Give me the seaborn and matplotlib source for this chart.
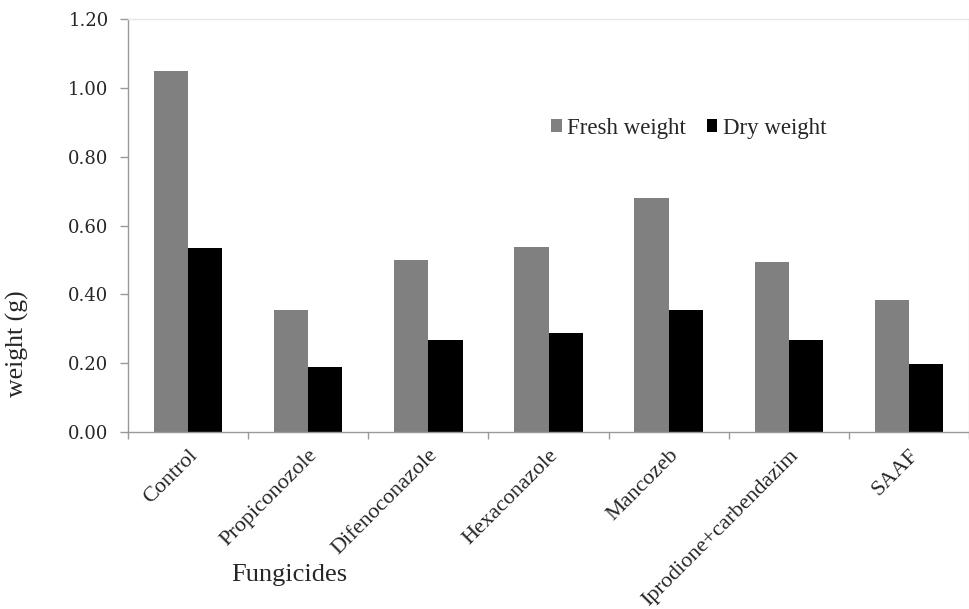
import matplotlib
matplotlib.use("Agg")
import matplotlib.pyplot as plt
import seaborn as sns
import pandas as pd
import numpy as np
from matplotlib.ticker import FixedLocator

categories = ["Control", "Propiconozole", "Difenoconazole", "Hexaconazole",
              "Mancozeb", "Iprodione+carbendazim", "SAAF"]
fresh_weight = [1.05, 0.355, 0.50, 0.537, 0.681, 0.494, 0.384]
dry_weight = [0.535, 0.19, 0.267, 0.289, 0.355, 0.267, 0.198]
series_names = ["Fresh weight", "Dry weight"]
y_ticks = [0.0, 0.2, 0.4, 0.6, 0.8, 1.0, 1.2]

df = pd.DataFrame({
    "Fungicide": categories * 2,
    "weight": fresh_weight + dry_weight,
    "Series": [series_names[0]] * len(categories) + [series_names[1]] * len(categories),
})

sns.set_theme(style="white")
plt.rcParams["font.family"] = ["Liberation Serif", "DejaVu Serif"]

fig = plt.figure(figsize=(9.7, 6.09), dpi=100)
ax = fig.add_axes([0.132, 0.2906, 0.867, 0.6782])

sns.barplot(data=df, x="Fungicide", y="weight", hue="Series",
            palette=["#808080", "#000000"], width=0.57, gap=0,
            edgecolor="none", linewidth=0, ax=ax, legend=True)

ax.set_ylim(0, 1.2)
ax.set_xlim(-0.5, len(categories) - 0.5)
ax.set_yticks(y_ticks, labels=[f"{v:.2f}" for v in y_ticks],
              fontfamily="DejaVu Serif", fontsize=13)
ax.tick_params(axis="y", direction="out", length=6, width=1,
               color="#999999", left=True, pad=8)
ax.tick_params(axis="x", which="major", length=0, labelsize=16, pad=10)
ax.xaxis.set_minor_locator(FixedLocator(np.arange(-0.5, len(categories), 1.0)))
ax.tick_params(axis="x", which="minor", direction="out", length=5, width=1,
               color="#999999", bottom=True)
for lab in ax.get_xticklabels():
    lab.set_rotation(45)
    lab.set_ha("right")
    lab.set_rotation_mode("anchor")

for side in ["left", "bottom"]:
    ax.spines[side].set_color("#999999")
    ax.spines[side].set_linewidth(1)
for side in ["top", "right"]:
    ax.spines[side].set_color("#e6e6e6")
    ax.spines[side].set_linewidth(1)

ax.set_xlabel("")
ax.set_ylabel("weight (g)", fontsize=18.5, va="center")
ax.yaxis.set_label_coords(-0.131, 0.215)
fig.text(0.298, 0.056, "Fungicides", fontsize=19, ha="center", va="center")

handles, labels = ax.get_legend_handles_labels()
ax.legend(handles, labels, ncol=2, frameon=False, fontsize=16.5,
          loc="center", bbox_to_anchor=(0.667, 0.736),
          handlelength=0.45, handleheight=0.45, handletextpad=0.25,
          columnspacing=0.9)

fig.savefig("out.png", dpi=100, facecolor="white")
